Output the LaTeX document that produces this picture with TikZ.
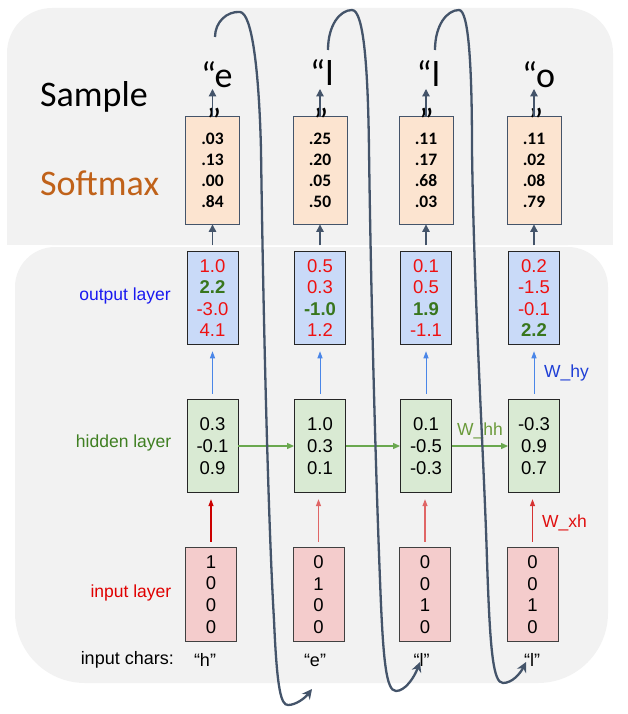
\documentclass[tikz,border=0pt]{standalone}
\usepackage{fontspec}
\setmainfont{Liberation Sans}
\newfontfamily\calfont{Carlito}
\usetikzlibrary{arrows.meta,calc}
\definecolor{bggray}{HTML}{F2F2F2}
\definecolor{slate}{HTML}{44546A}
\definecolor{peach}{HTML}{FCE4D0}
\definecolor{outblue}{HTML}{C9DAF8}
\definecolor{hidgreen}{HTML}{D9EAD3}
\definecolor{inpink}{HTML}{F4CCCC}
\definecolor{numred}{HTML}{EE1111}
\definecolor{numgreen}{HTML}{38761D}
\definecolor{labblue}{HTML}{1A1AF0}
\definecolor{labgreen}{HTML}{3F7F22}
\definecolor{labred}{HTML}{E00000}
\definecolor{softorange}{HTML}{C0621A}
\definecolor{arrblue}{HTML}{4A86E8}
\definecolor{arrgreen}{HTML}{6AA84F}
\definecolor{arrred}{HTML}{CC0000}
\definecolor{arrpink}{HTML}{E06666}
\definecolor{whhgreen}{HTML}{6A9A3A}
\definecolor{whyblue}{HTML}{1F3FD6}
\definecolor{wxhred}{HTML}{E01010}
\begin{document}
\begin{tikzpicture}[x=1pt,y=-1pt,
  smbox/.style={draw=slate, line width=0.9pt, fill=peach, minimum width=54pt, minimum height=107.5pt, inner sep=0pt, align=center, font=\calfont\bfseries\fontsize{17.5}{20.9}\selectfont},
  obox/.style={draw=black!85, line width=0.9pt, fill=outblue, minimum width=51pt, minimum height=92.6pt, inner sep=0pt, align=center, text=numred, font=\fontsize{18.5}{21.4}\selectfont},
  hbox/.style={draw=black!85, line width=0.9pt, fill=hidgreen, minimum width=51pt, minimum height=93.4pt, inner sep=0pt, align=center, font=\fontsize{18.5}{21.7}\selectfont},
  ibox/.style={draw=black!75, line width=0.9pt, fill=inpink, minimum width=51pt, minimum height=93.6pt, inner sep=0pt, align=center, font=\fontsize{18.5}{21.7}\selectfont},
  qtext/.style={inner sep=0pt, font=\calfont\fontsize{36}{40}\selectfont},
  lab/.style={inner sep=0pt, font=\fontsize{17.5}{20}\selectfont},
  chars/.style={inner sep=0pt, font=\fontsize{18}{20}\selectfont},
  slarrow/.style={draw=slate, line width=1.3pt, -{Triangle[length=7.5pt,width=7.5pt]}},
  blarrow/.style={draw=arrblue, line width=1pt, -{Triangle[length=7pt,width=5pt]}},
  rdarrow/.style={line width=1.1pt, -{Triangle[length=7pt,width=5pt]}},
  grarrow/.style={draw=arrgreen, line width=1.2pt, -{Triangle[length=7pt,width=6pt]}},
  curvearrow/.style={draw=slate, line width=2.3pt, -{Stealth[length=10pt,width=10pt]}}
]
\useasboundingbox (0,0) rectangle (627,714);
% backgrounds
\fill[bggray, rounded corners=45pt] (7,8) rectangle (613,245);
\fill[bggray] (7,180) rectangle (613,245);
\fill[bggray, rounded corners=40pt] (15,247) rectangle (608,500);
\fill[bggray, rounded corners=70pt] (15,400) rectangle (608,683);

% left labels
\node[qtext, anchor=base west] (lsample) at (40,107) {Sample};
\node[qtext, anchor=base west, text=softorange] (lsoftmax) at (40,195) {Softmax};
\node[lab, anchor=east, text=labblue] (lout) at (171,296) {output layer};
\node[lab, anchor=east, text=labgreen] (lhid) at (171.5,443) {hidden layer};
\node[lab, anchor=east, text=labred] (linp) at (171.5,593) {input layer};
\node[chars, anchor=east] (lchars) at (174,660) {input chars:};

% softmax boxes
\node[smbox] (s1) at (212.5,170.25) {.03\\.13\\.00\\.84};
\node[smbox] (s2) at (320,170.25) {.25\\.20\\.05\\.50};
\node[smbox] (s3) at (426,170.25) {.11\\.17\\.68\\.03};
\node[smbox] (s4) at (534,170.25) {.11\\.02\\.08\\.79};

% output boxes
\node[obox] (o1) at (212.5,298) {1.0\\\textbf{\textcolor{numgreen}{2.2}}\\-3.0\\4.1};
\node[obox] (o2) at (320,298) {0.5\\0.3\\\textbf{\textcolor{numgreen}{-1.0}}\\1.2};
\node[obox] (o3) at (426,298) {0.1\\0.5\\\textbf{\textcolor{numgreen}{1.9}}\\-1.1};
\node[obox] (o4) at (534,298) {0.2\\-1.5\\-0.1\\\textbf{\textcolor{numgreen}{2.2}}};

% hidden boxes
\node[hbox] (h1) at (212.5,446) {0.3\\-0.1\\0.9};
\node[hbox] (h2) at (320,446) {1.0\\0.3\\0.1};
\node[hbox] (h3) at (426,446) {0.1\\-0.5\\-0.3};
\node[hbox] (h4) at (534,446) {-0.3\\0.9\\0.7};

% input boxes
\node[ibox] (i1) at (211,594.5) {1\\0\\0\\0};
\node[ibox] (i2) at (318.5,594.5) {0\\1\\0\\0};
\node[ibox] (i3) at (425,594.5) {0\\0\\1\\0};
\node[ibox] (i4) at (532.5,594.5) {0\\0\\1\\0};

% input chars
\node[chars] (c1) at (205,660) {“h”};
\node[chars] (c2) at (315,660) {“e”};
\node[chars] (c3) at (421.5,660) {“l”};
\node[chars] (c4) at (532,660) {“l”};

% sampled chars
\node[qtext, anchor=base west] (q1) at (201,88) {“e};
\node[qtext, anchor=base west] (q2) at (310,86) {“l};
\node[qtext, anchor=base west] (q3) at (416.5,87) {“l};
\node[qtext, anchor=base west] (q4) at (522,88) {“o};
\newcommand{\closeq}{\raisebox{-19pt}[8pt][0pt]{”}}
\node[qtext, anchor=base] (e1) at (214,114.5) {\closeq};
\node[qtext, anchor=base] (e2) at (321,114.5) {\closeq};
\node[qtext, anchor=base] (e3) at (426.5,114.5) {\closeq};
\node[qtext, anchor=base] (e4) at (536,114.5) {\closeq};

% arrow targets above softmax
\coordinate (t1) at (212.5,89);
\coordinate (t2) at (320,89);
\coordinate (t3) at (426,89);
\coordinate (t4) at (534,89);
\foreach \k in {1,2,3,4}{
  \draw[slarrow] (s\k.north) -- (t\k);
  \draw[slarrow, shorten <=6pt] (o\k.north) -- (s\k.south);
  \draw[blarrow, shorten <=5pt, shorten >=6.5pt] (h\k.north) -- (o\k.south);
}
\draw[rdarrow, draw=arrred, shorten <=5.5pt, shorten >=6pt] (i1.north) -- (i1.north |- h1.south);
\draw[rdarrow, draw=arrpink, shorten <=5.5pt, shorten >=6pt] (i2.north) -- (i2.north |- h2.south);
\draw[rdarrow, draw=arrpink, shorten <=5.5pt, shorten >=6pt] (i3.north) -- (i3.north |- h3.south);
\draw[rdarrow, draw=arrred!80!white, shorten <=5.5pt, shorten >=6pt] (i4.north) -- (i4.north |- h4.south);

\draw[grarrow] (h1.east) -- (h2.west);
\draw[grarrow] (h2.east) -- (h3.west);
\draw[grarrow] (h3.east) -- (h4.west);

% weight labels
\node[lab, text=whhgreen] (whh) at (480,431) {W\_hh};
\node[lab, text=whyblue] (why) at (566.5,373) {W\_hy};
\node[lab, text=wxhred] (wxh) at (564.5,523) {W\_xh};

% feedback curves
\coordinate (k1s) at (215,37);
\coordinate (k1e) at (312,689);
\coordinate (k2s) at (328,50);
\coordinate (k2e) at (420,662);
\coordinate (k3s) at (435,50);
\coordinate (k3e) at (526,662);
\draw[curvearrow] (k1s) .. controls (215,22) and (227,11) .. (240,12)
  .. controls (252,13) and (259,70) .. (261,150)
  .. controls (263,300) and (268,520) .. (274,620)
  .. controls (277,690) and (281,705) .. (288,705)
  .. controls (296,705) and (305,698) .. (k1e);
\draw[curvearrow] (k2s) .. controls (328,25) and (340,10) .. (352,10)
  .. controls (364,10) and (368,70) .. (369,150)
  .. controls (371,300) and (376,480) .. (380,580)
  .. controls (383,660) and (386,691) .. (396,691)
  .. controls (405,691) and (414,678) .. (k2e);
\draw[curvearrow] (k3s) .. controls (435,25) and (447,10) .. (459,10)
  .. controls (469,10) and (472,70) .. (472,150)
  .. controls (474,300) and (484,460) .. (487,560)
  .. controls (490,650) and (493,683) .. (503,683)
  .. controls (512,683) and (520,674) .. (k3e);
\end{tikzpicture}
\end{document}
